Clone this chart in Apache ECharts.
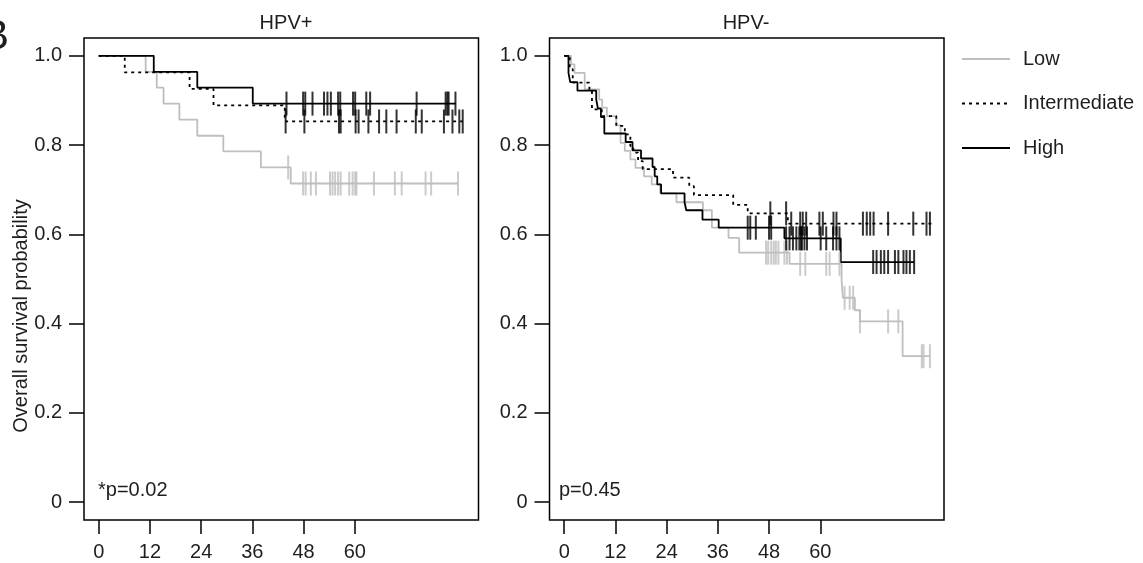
<!DOCTYPE html>
<html><head><meta charset="utf-8">
<script src="https://cdn.jsdelivr.net/npm/echarts@6/dist/echarts.min.js"></script>
<style>html,body{margin:0;padding:0;background:#fff}#c{width:1143px;height:563px}</style>
</head><body><div id="c"></div>
<script>
// ---- ticks / labels ----
const xTicks = [0, 12, 24, 36, 48, 60];
const yTicks = [0, 0.2, 0.4, 0.6, 0.8, 1.0];
const yTickLabels = ['0', '0.2', '0.4', '0.6', '0.8', '1.0'];
const panelTitles = ['HPV+', 'HPV-'];
const pValueTexts = ['*p=0.02', 'p=0.45'];
const groups = ['Low', 'Intermediate', 'High'];
const yAxisTitle = 'Overall survival probability';
const panelLetter = 'B';

// ---- HPV+ : step times (months) and survival, censor times ----
const posLowT = [0, 11.0, 13.6, 15.2, 18.9, 23.1, 29.2, 38.0, 45.0, 84.2];
const posLowS = [1, 0.964, 0.929, 0.893, 0.857, 0.821, 0.786, 0.750, 0.714, 0.714];
const posLowC = [44.4, 47.9, 48.5, 49.7, 50.9, 54.2, 54.8, 55.4, 56.1, 56.7, 58.7, 59.5, 60.1, 60.4, 64.5, 69.4, 71.0, 76.6, 77.9, 84.2];

const posIntT = [0, 6.1, 21.3, 26.9, 43.6, 85.3];
const posIntS = [1, 0.963, 0.926, 0.889, 0.853, 0.853];
const posIntC = [43.8, 48.2, 56.3, 56.7, 60.2, 60.9, 63.2, 65.7, 67.4, 69.8, 74.3, 75.7, 80.9, 82.9, 84.5, 85.3];

const posHighT = [0, 12.9, 23.1, 36.1, 83.7];
const posHighS = [1, 0.964, 0.929, 0.893, 0.893];
const posHighC = [44.0, 47.9, 48.4, 50.1, 52.8, 53.6, 54.4, 56.1, 56.6, 59.6, 60.1, 62.7, 63.6, 74.5, 81.3, 81.7, 82.0, 83.6];

// ---- HPV- ----
const negLowT = [0, 1.6, 2.4, 4.8, 8.2, 8.9, 10.0, 12.2, 13.2, 14.2, 15.5, 16.7, 18.7, 20.5, 22.5, 26.3, 32.5, 34.6, 38.5, 41.0, 52.8, 65.0, 65.3, 68.1, 69.3, 79.3, 85.7];
const negLowS = [1, 0.981, 0.962, 0.925, 0.902, 0.884, 0.865, 0.844, 0.805, 0.787, 0.768, 0.749, 0.730, 0.712, 0.692, 0.672, 0.654, 0.615, 0.592, 0.559, 0.534, 0.497, 0.458, 0.430, 0.405, 0.327, 0.327];
const negLowC = [47.3, 47.8, 48.5, 49.1, 49.6, 50.2, 51.6, 52.2, 55.3, 56.5, 61.4, 62.2, 64.5, 65.7, 66.9, 67.7, 69.3, 75.9, 78.3, 83.8, 84.2, 85.7];

const negIntT = [0, 1.3, 2.0, 5.9, 6.5, 8.8, 12.2, 14.2, 15.5, 16.2, 17.3, 18.4, 25.5, 29.3, 30.4, 39.6, 43.0, 52.4, 86.1];
const negIntS = [1, 0.970, 0.940, 0.921, 0.880, 0.865, 0.843, 0.824, 0.798, 0.783, 0.764, 0.746, 0.727, 0.708, 0.688, 0.666, 0.647, 0.624, 0.624];
const negIntC = [48.3, 52.0, 53.2, 55.3, 55.9, 56.7, 59.8, 60.6, 63.1, 63.8, 70.0, 70.9, 71.7, 72.5, 75.9, 81.8, 84.9, 85.7];

const negHighT = [0, 1.0, 1.4, 3.1, 7.5, 7.9, 8.6, 9.4, 14.4, 16.0, 18.0, 20.7, 21.2, 21.8, 22.7, 28.2, 28.6, 32.4, 36.2, 51.6, 64.8, 82.0];
const negHighS = [1, 0.962, 0.941, 0.922, 0.902, 0.882, 0.863, 0.826, 0.807, 0.788, 0.770, 0.751, 0.730, 0.712, 0.692, 0.672, 0.654, 0.633, 0.615, 0.591, 0.538, 0.538];
const negHighC = [43.0, 43.6, 44.9, 48.0, 48.5, 52.0, 52.8, 53.6, 54.4, 55.1, 55.5, 55.7, 56.3, 56.9, 60.1, 61.4, 63.0, 63.8, 64.5, 72.4, 73.2, 74.2, 75.0, 75.9, 77.5, 78.3, 79.5, 80.2, 81.0, 82.0];

// ---- build ----
const FONT = '"Liberation Sans", Arial, Helvetica, sans-serif';
const TXT = '#1e1e1e';
const GRAY = '#bebebe';
const styles = {
  Low: { color: GRAY, type: 'solid', tick: GRAY },
  Intermediate: { color: '#000', type: [3, 4], tick: '#000' },
  High: { color: '#000', type: 'solid', tick: '#000' }
};
const panels = [
  { Low: [posLowT, posLowS, posLowC], Intermediate: [posIntT, posIntS, posIntC], High: [posHighT, posHighS, posHighC] },
  { Low: [negLowT, negLowS, negLowC], Intermediate: [negIntT, negIntS, negIntC], High: [negHighT, negHighS, negHighC] }
];
function survAt(T, S, t) { let v = S[0]; for (let i = 0; i < T.length; i++) { if (T[i] <= t) v = S[i]; } return v; }

const gridLefts = [84, 549.5];
const grids = gridLefts.map(l => ({ left: l, top: 38, width: 394.5, height: 482, show: true, borderColor: '#000', borderWidth: 1.5, backgroundColor: 'transparent' }));
const xAxes = gridLefts.map((l, i) => ({
  type: 'value', gridIndex: i, min: -3.45, max: 89.0, position: 'bottom',
  axisLine: { show: false, onZero: false }, splitLine: { show: false },
  axisTick: { show: true, inside: false, customValues: xTicks, length: 14, lineStyle: { color: '#000', width: 1.5 } },
  axisLabel: { customValues: xTicks, margin: 22, fontSize: 20, fontFamily: FONT, color: TXT }
}));
const yAxes = gridLefts.map((l, i) => ({
  type: 'value', gridIndex: i, min: -0.04, max: 1.04, position: 'left',
  axisLine: { show: false, onZero: false }, splitLine: { show: false },
  axisTick: { show: true, inside: false, customValues: yTicks, length: 15, lineStyle: { color: '#000', width: 1.5 } },
  axisLabel: { customValues: yTicks, margin: 22, fontSize: 20, fontFamily: FONT, color: TXT,
    formatter: v => yTickLabels[yTicks.findIndex(t => Math.abs(t - v) < 1e-6)] }
}));

const series = [];
panels.forEach((p, pi) => {
  groups.forEach(g => {
    const [T, S] = p[g];
    series.push({
      name: g, type: 'line', xAxisIndex: pi, yAxisIndex: pi, step: 'end', symbol: 'none', showSymbol: false,
      lineStyle: { color: styles[g].color, width: 1.8, type: styles[g].type },
      itemStyle: { color: styles[g].color },
      data: T.map((t, i) => [t, S[i]]), z: 3, animation: false
    });
  });
  groups.forEach(g => {
    const [T, S, C] = p[g];
    series.push({
      name: g + ' censored', type: 'scatter', xAxisIndex: pi, yAxisIndex: pi,
      symbol: 'rect', symbolSize: [2, 24],
      itemStyle: { color: styles[g].tick },
      data: C.map(t => [t, survAt(T, S, t)]), z: 4, animation: false, silent: true
    });
  });
});

const textStyle = (txt, x, y, size, align, extra) => Object.assign({
  type: 'text', x: x, y: y,
  style: { text: txt, fontSize: size, fontFamily: FONT, fill: TXT, textAlign: align || 'left', textVerticalAlign: 'middle' }
}, extra || {});

const graphics = [
  textStyle(panelTitles[0], 286, 23, 20, 'center'),
  textStyle(panelTitles[1], 746, 23, 20, 'center'),
  textStyle(pValueTexts[0], 98, 490, 20, 'left'),
  textStyle(pValueTexts[1], 559, 490, 20, 'left'),
  textStyle(panelLetter, -19, 37, 42, 'left'),
  textStyle(yAxisTitle, 21, 316, 20, 'center', { rotation: Math.PI / 2 })
];

const chart = echarts.init(document.getElementById('c'), null, { renderer: 'canvas' });
chart.setOption({
  animation: false,
  backgroundColor: '#fff',
  grid: grids, xAxis: xAxes, yAxis: yAxes, series: series,
  legend: {
    orient: 'vertical', left: 956, top: 44, itemWidth: 48, itemHeight: 20, itemGap: 24.5,
    data: groups, selectedMode: false,
    itemStyle: { opacity: 0 },
    lineStyle: { width: 2 },
    textStyle: { fontSize: 20, fontFamily: FONT, color: TXT, padding: [0, 0, 0, 8] }
  },
  graphic: graphics
});
</script></body></html>
